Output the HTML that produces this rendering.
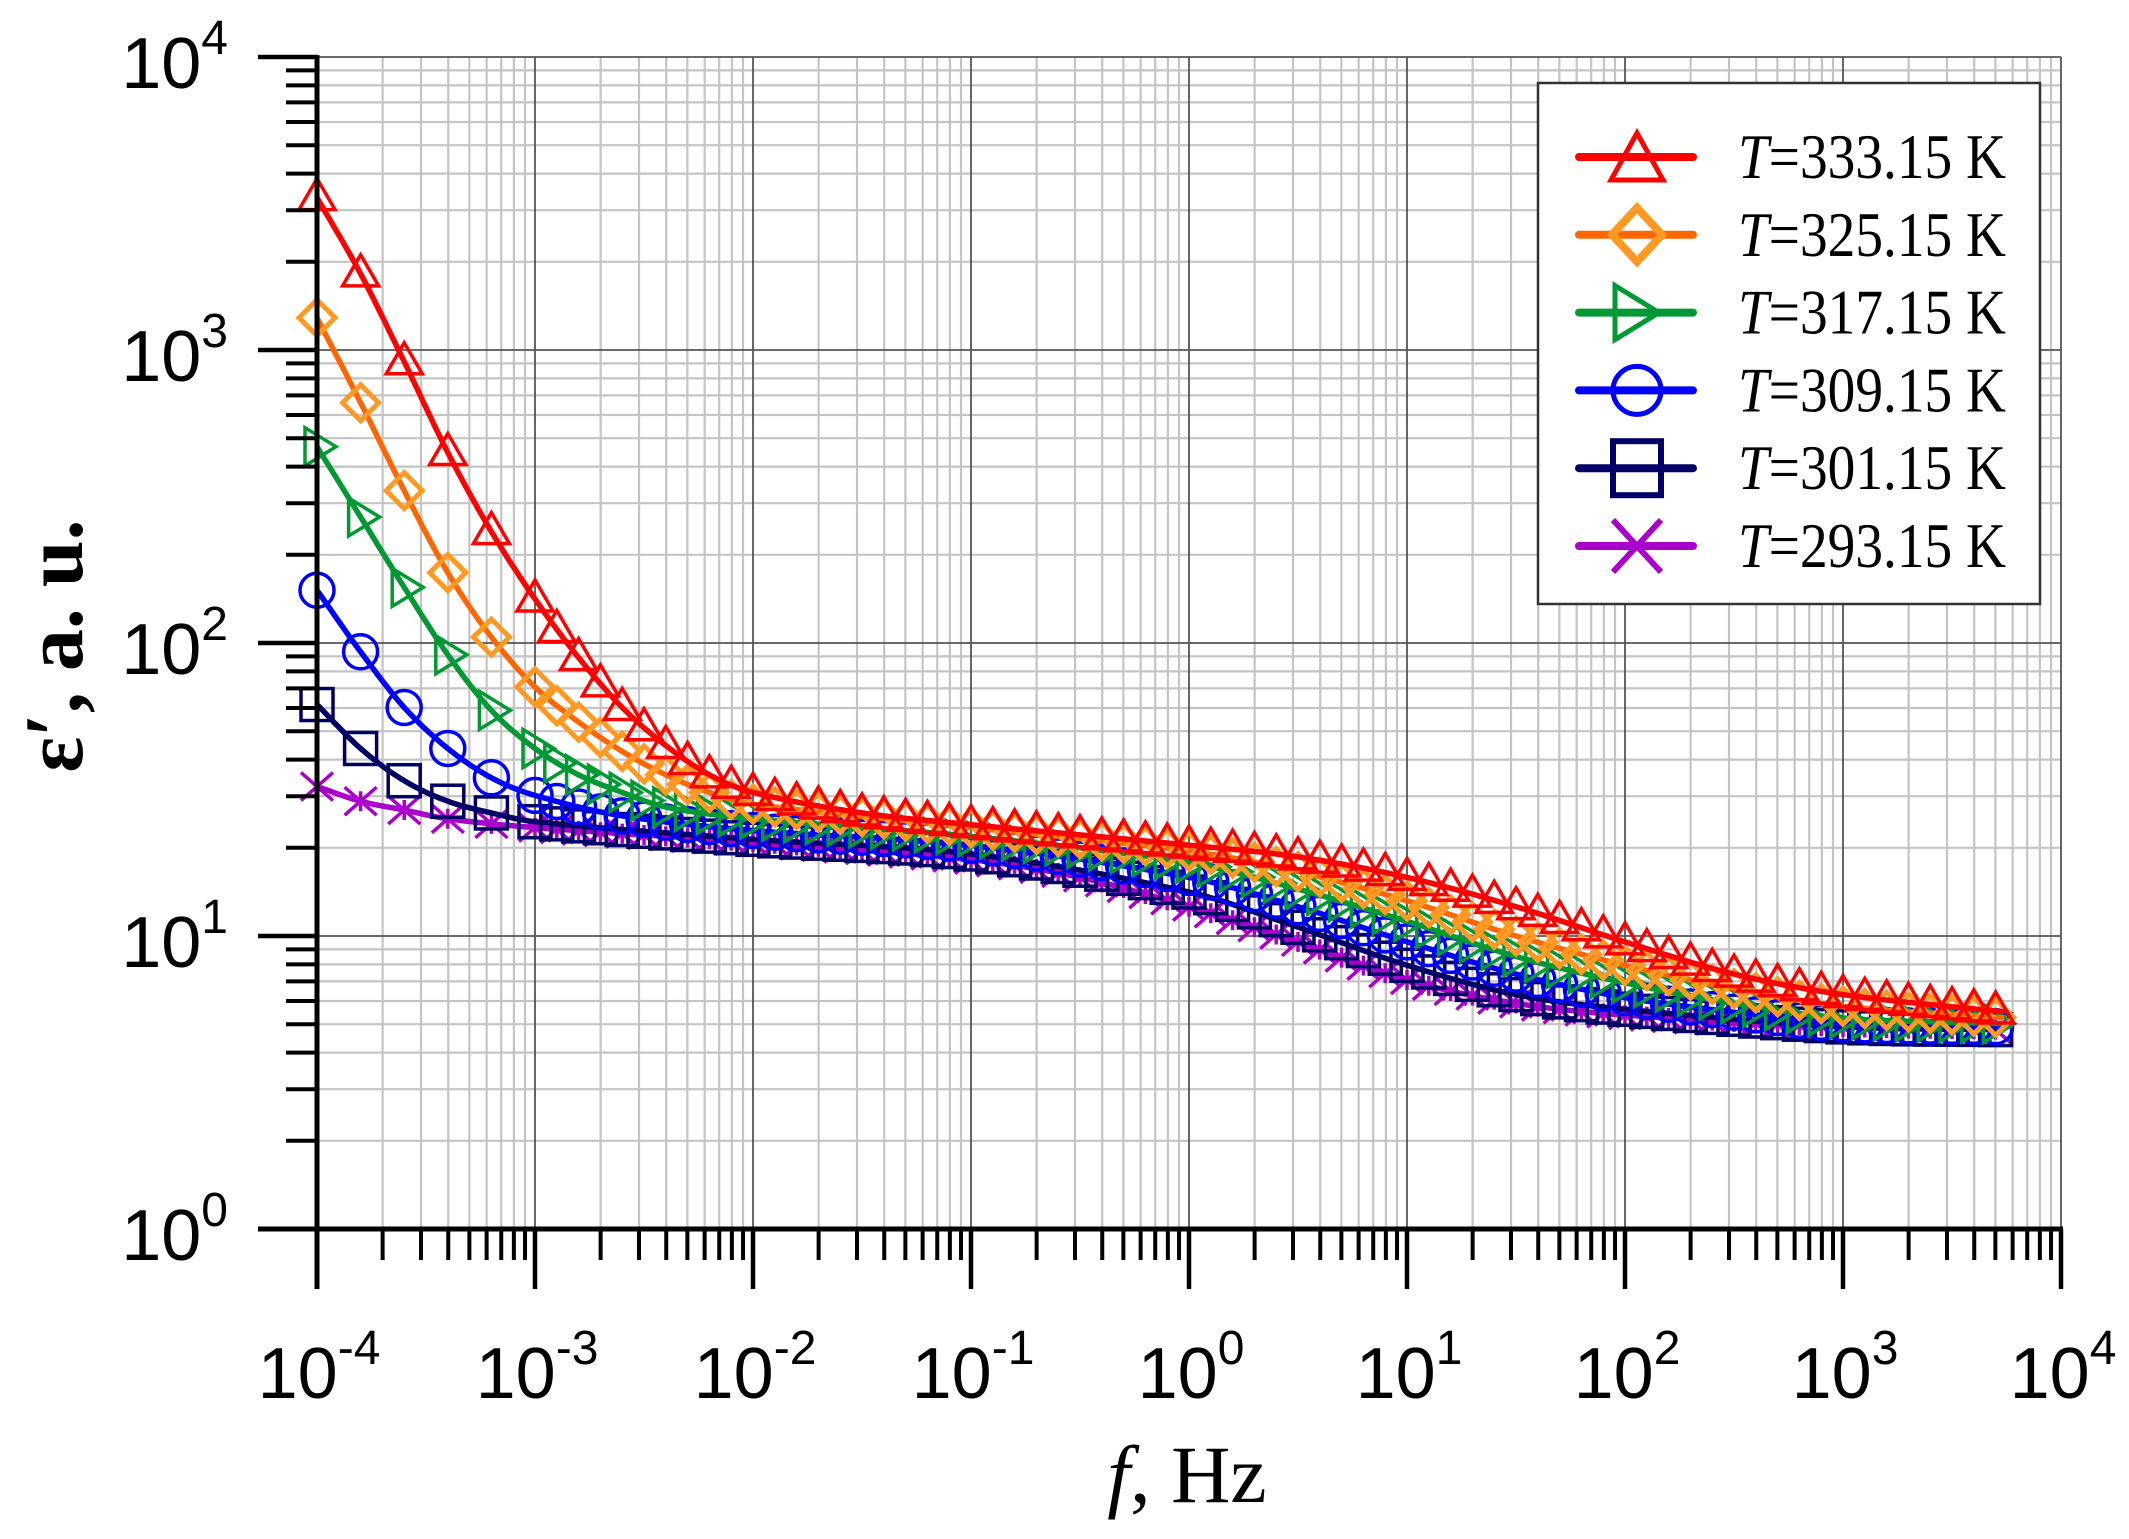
<!DOCTYPE html>
<html><head><meta charset="utf-8"><style>
html,body{margin:0;padding:0;background:#fff;}
svg{display:block;}
</style></head><body>
<svg id="s" width="2129" height="1539" xmlns="http://www.w3.org/2000/svg">
<rect width="2129" height="1539" fill="#fff"/>
<g id="grid"></g>
<g id="series"></g>
<g id="axes"></g>
<g id="labels" font-family="Liberation Sans, Arial, sans-serif" fill="#000"></g>
<text x="1187" y="1502" font-family="Liberation Serif, serif" font-size="82" text-anchor="middle"><tspan font-style="italic">f</tspan>, Hz</text>
<text transform="translate(82,646) rotate(-90)" font-family="Liberation Serif, serif" font-size="84" font-weight="bold" text-anchor="middle">ε′, a. u.</text>
<g id="legend"></g>
</svg>
<script>
const NS="http://www.w3.org/2000/svg";
const X0=317,DX=218,Y0=1229,DY=293,XR=2061,YT=57;
const px=l=>X0+(l+4)*DX, py=l=>Y0-l*DY;
function el(p,t,a){const e=document.createElementNS(NS,t);for(const k in a)e.setAttribute(k,a[k]);p.appendChild(e);return e;}
const G=document.getElementById('grid'),S=document.getElementById('series'),A=document.getElementById('axes'),L=document.getElementById('labels'),LG=document.getElementById('legend');
for(let d=-4;d<4;d++)for(let m=2;m<10;m++){const x=px(d+Math.log10(m));el(G,'line',{x1:x,x2:x,y1:YT,y2:Y0,stroke:'#c4c4c4','stroke-width':2.2});}
for(let d=0;d<4;d++)for(let m=2;m<10;m++){const y=py(d+Math.log10(m));el(G,'line',{x1:X0,x2:XR,y1:y,y2:y,stroke:'#c4c4c4','stroke-width':2.2});}
for(let d=-3;d<=4;d++){const x=px(d);el(G,'line',{x1:x,x2:x,y1:YT,y2:Y0,stroke:'#555','stroke-width':1.8});}
for(let d=1;d<=4;d++){const y=py(d);el(G,'line',{x1:X0,x2:XR,y1:y,y2:y,stroke:'#555','stroke-width':1.8});}
el(A,'line',{x1:X0,x2:X0,y1:YT-2,y2:Y0+60,stroke:'#000','stroke-width':5});
el(A,'line',{x1:258,x2:XR+2,y1:Y0,y2:Y0,stroke:'#000','stroke-width':5});
for(let d=-4;d<=4;d++){const x=px(d);el(A,'line',{x1:x,x2:x,y1:Y0,y2:Y0+60,stroke:'#000','stroke-width':4.5});
 if(d<4)for(let m=2;m<10;m++){const xx=px(d+Math.log10(m));el(A,'line',{x1:xx,x2:xx,y1:Y0,y2:Y0+31,stroke:'#000','stroke-width':4});}}
for(let d=0;d<=4;d++){const y=py(d);el(A,'line',{x1:258,x2:X0,y1:y,y2:y,stroke:'#000','stroke-width':4.5});
 if(d<4)for(let m=2;m<10;m++){const yy=py(d+Math.log10(m));el(A,'line',{x1:286,x2:X0,y1:yy,y2:yy,stroke:'#000','stroke-width':4});}}
function lab(x,y,exp,anchor){const t=el(L,'text',{x:x,y:y,'font-size':72,'text-anchor':anchor});t.textContent='10';const s=el(t,'tspan',{'font-size':48,dy:-34});s.textContent=exp;}
for(let d=0;d<=4;d++)lab(228,py(d)+31,String(d),'end');
for(let d=-4;d<=4;d++)lab(px(d)+2,1398,d<0?'-'+(-d):String(d),'middle');
const data=[
 ['#aa00cc','#aa00cc','x',[[-4,1.51],[-3.8,1.46],[-3.6,1.43],[-3.4,1.40],[-3,1.37],[-2,1.32],[-1,1.26],[-0.5,1.2],[0,1.1],[0.5,0.98],[1,0.85],[1.5,0.77],[2,0.73],[3,0.69],[3.75,0.68]]],
 ['#000066','#000066','sq',[[-4,1.79],[-3.8,1.64],[-3.6,1.53],[-3.4,1.46],[-3.2,1.42],[-3,1.39],[-2,1.33],[-1,1.28],[0,1.15],[0.5,1.03],[1,0.9],[1.5,0.8],[2,0.75],[3,0.69],[3.75,0.68]]],
 ['#0000ff','#0000ff','c',[[-4,2.18],[-3.8,1.97],[-3.6,1.78],[-3.4,1.64],[-3.2,1.54],[-3,1.48],[-2.6,1.41],[-2,1.36],[-1,1.31],[0,1.2],[0.5,1.1],[1,0.98],[1.5,0.87],[2,0.79],[2.5,0.74],[3,0.70],[3.75,0.69]]],
 ['#009933','#009933','rt',[[-4,2.67],[-3.8,2.43],[-3.6,2.19],[-3.4,1.96],[-3.2,1.77],[-3,1.64],[-2.8,1.55],[-2.6,1.49],[-2.4,1.44],[-2,1.40],[-1,1.34],[0,1.25],[0.5,1.16],[1,1.05],[1.5,0.93],[2,0.84],[2.5,0.77],[3,0.72],[3.75,0.70]]],
 ['#ff6600','#ff9922','d',[[-4,3.11],[-3.8,2.82],[-3.6,2.52],[-3.4,2.24],[-3.2,2.02],[-3,1.85],[-2.8,1.73],[-2.6,1.63],[-2.4,1.55],[-2.2,1.49],[-2,1.45],[-1,1.37],[0,1.29],[0.5,1.22],[1,1.12],[1.5,1.0],[2,0.9],[2.5,0.82],[3,0.76],[3.75,0.72]]],
 ['#ff0000','#ff0000','t',[[-4,3.52],[-3.8,3.26],[-3.6,2.96],[-3.4,2.65],[-3.2,2.38],[-3,2.15],[-2.8,1.95],[-2.6,1.78],[-2.4,1.65],[-2.2,1.55],[-2,1.49],[-1.5,1.42],[-1,1.38],[0,1.31],[0.5,1.27],[1,1.2],[1.5,1.1],[2,0.98],[2.5,0.87],[3,0.8],[3.75,0.74]]]
];
function interp(pts,x){
 let i=0;while(i<pts.length-2&&x>pts[i+1][0])i++;
 const p0=pts[Math.max(i-1,0)],p1=pts[i],p2=pts[i+1],p3=pts[Math.min(i+2,pts.length-1)];
 const h=p2[0]-p1[0],t=(x-p1[0])/h;
 const m1=(p2[1]-p0[1])/(p2[0]-p0[0])*h, m2=(p3[1]-p1[1])/(p3[0]-p1[0])*h;
 const t2=t*t,t3=t2*t;
 return (2*t3-3*t2+1)*p1[1]+(t3-2*t2+t)*m1+(-2*t3+3*t2)*p2[1]+(t3-t2)*m2;}
function marker(p,type,x,y,c){
 const st={fill:'none',stroke:c,'stroke-width':3.5};
 if(type==='t'){el(p,'polygon',Object.assign({points:`${x},${y-19} ${x-18},${y+12} ${x+18},${y+12}`},st));}
 else if(type==='d'){el(p,'polygon',Object.assign({points:`${x},${y-18} ${x+18},${y} ${x},${y+18} ${x-18},${y}`},st,{'stroke-width':5}));}
 else if(type==='rt'){el(p,'polygon',Object.assign({points:`${x-12},${y-19} ${x+19},${y} ${x-12},${y+19}`},st));}
 else if(type==='c'){el(p,'circle',Object.assign({cx:x,cy:y,r:17},st));}
 else if(type==='sq'){el(p,'rect',Object.assign({x:x-16,y:y-16,width:32,height:32},st));}
 else {el(p,'path',Object.assign({d:`M${x-16},${y-14}L${x+16},${y+14}M${x-16},${y+14}L${x+16},${y-14}M${x},${y-10}L${x},${y+10}`},st));}
}
const xs=[-4,-3.8,-3.6,-3.4,-3.2];for(let l=-3;l<=3.751;l+=0.1)xs.push(+l.toFixed(2));
data.forEach(([lc,mc,type,pts])=>{
 const g=el(S,'g',{});
 let d='';for(let l=-4;l<=3.75;l+=0.02){d+=(d?'L':'M')+px(l).toFixed(1)+','+py(interp(pts,l)).toFixed(1);}
 el(g,'path',{d:d,fill:'none',stroke:lc,'stroke-width':5.5,'stroke-linejoin':'round'});
 xs.forEach(l=>marker(g,type,px(l),py(interp(pts,l)),mc));
});
el(LG,'rect',{x:1538,y:83,width:502,height:521,fill:'#fff',stroke:'#333','stroke-width':2.5});
const names=['333.15','325.15','317.15','309.15','301.15','293.15'];
for(let i=0;i<6;i++){const [lc,mc,type]=data[5-i];const y=157+i*77.8;
 el(LG,'line',{x1:1579,x2:1693,y1:y,y2:y,stroke:lc,'stroke-width':8,'stroke-linecap':'round'});
 const g=el(LG,'g',{});
 const st={fill:'none',stroke:mc,'stroke-width':5};const x=1637;
 if(type==='t')el(g,'polygon',Object.assign({points:`${x},${y-24} ${x-26},${y+23} ${x+26},${y+23}`},st));
 else if(type==='d')el(g,'polygon',Object.assign({points:`${x},${y-27} ${x+25},${y} ${x},${y+27} ${x-25},${y}`},st,{'stroke-width':8}));
 else if(type==='rt')el(g,'polygon',Object.assign({points:`${x-22},${y-27} ${x+22},${y} ${x-22},${y+27}`},st));
 else if(type==='c')el(g,'circle',Object.assign({cx:x,cy:y,r:24},st));
 else if(type==='sq')el(g,'rect',Object.assign({x:x-24,y:y-27,width:48,height:54},st,{'stroke-width':6}));
 else el(g,'path',Object.assign({d:`M${x-24},${y-26}L${x+24},${y+26}M${x-24},${y+26}L${x+24},${y-26}`},st,{'stroke-width':6}));
 const t=el(LG,'text',{x:1738,y:y+21,'font-family':'Liberation Serif, serif','font-size':64,textLength:268,lengthAdjust:'spacingAndGlyphs'});
 const ti=el(t,'tspan',{'font-style':'italic'});ti.textContent='T';
 const r=el(t,'tspan',{});r.textContent='='+names[i]+' K';
}
</script>
</body></html>
